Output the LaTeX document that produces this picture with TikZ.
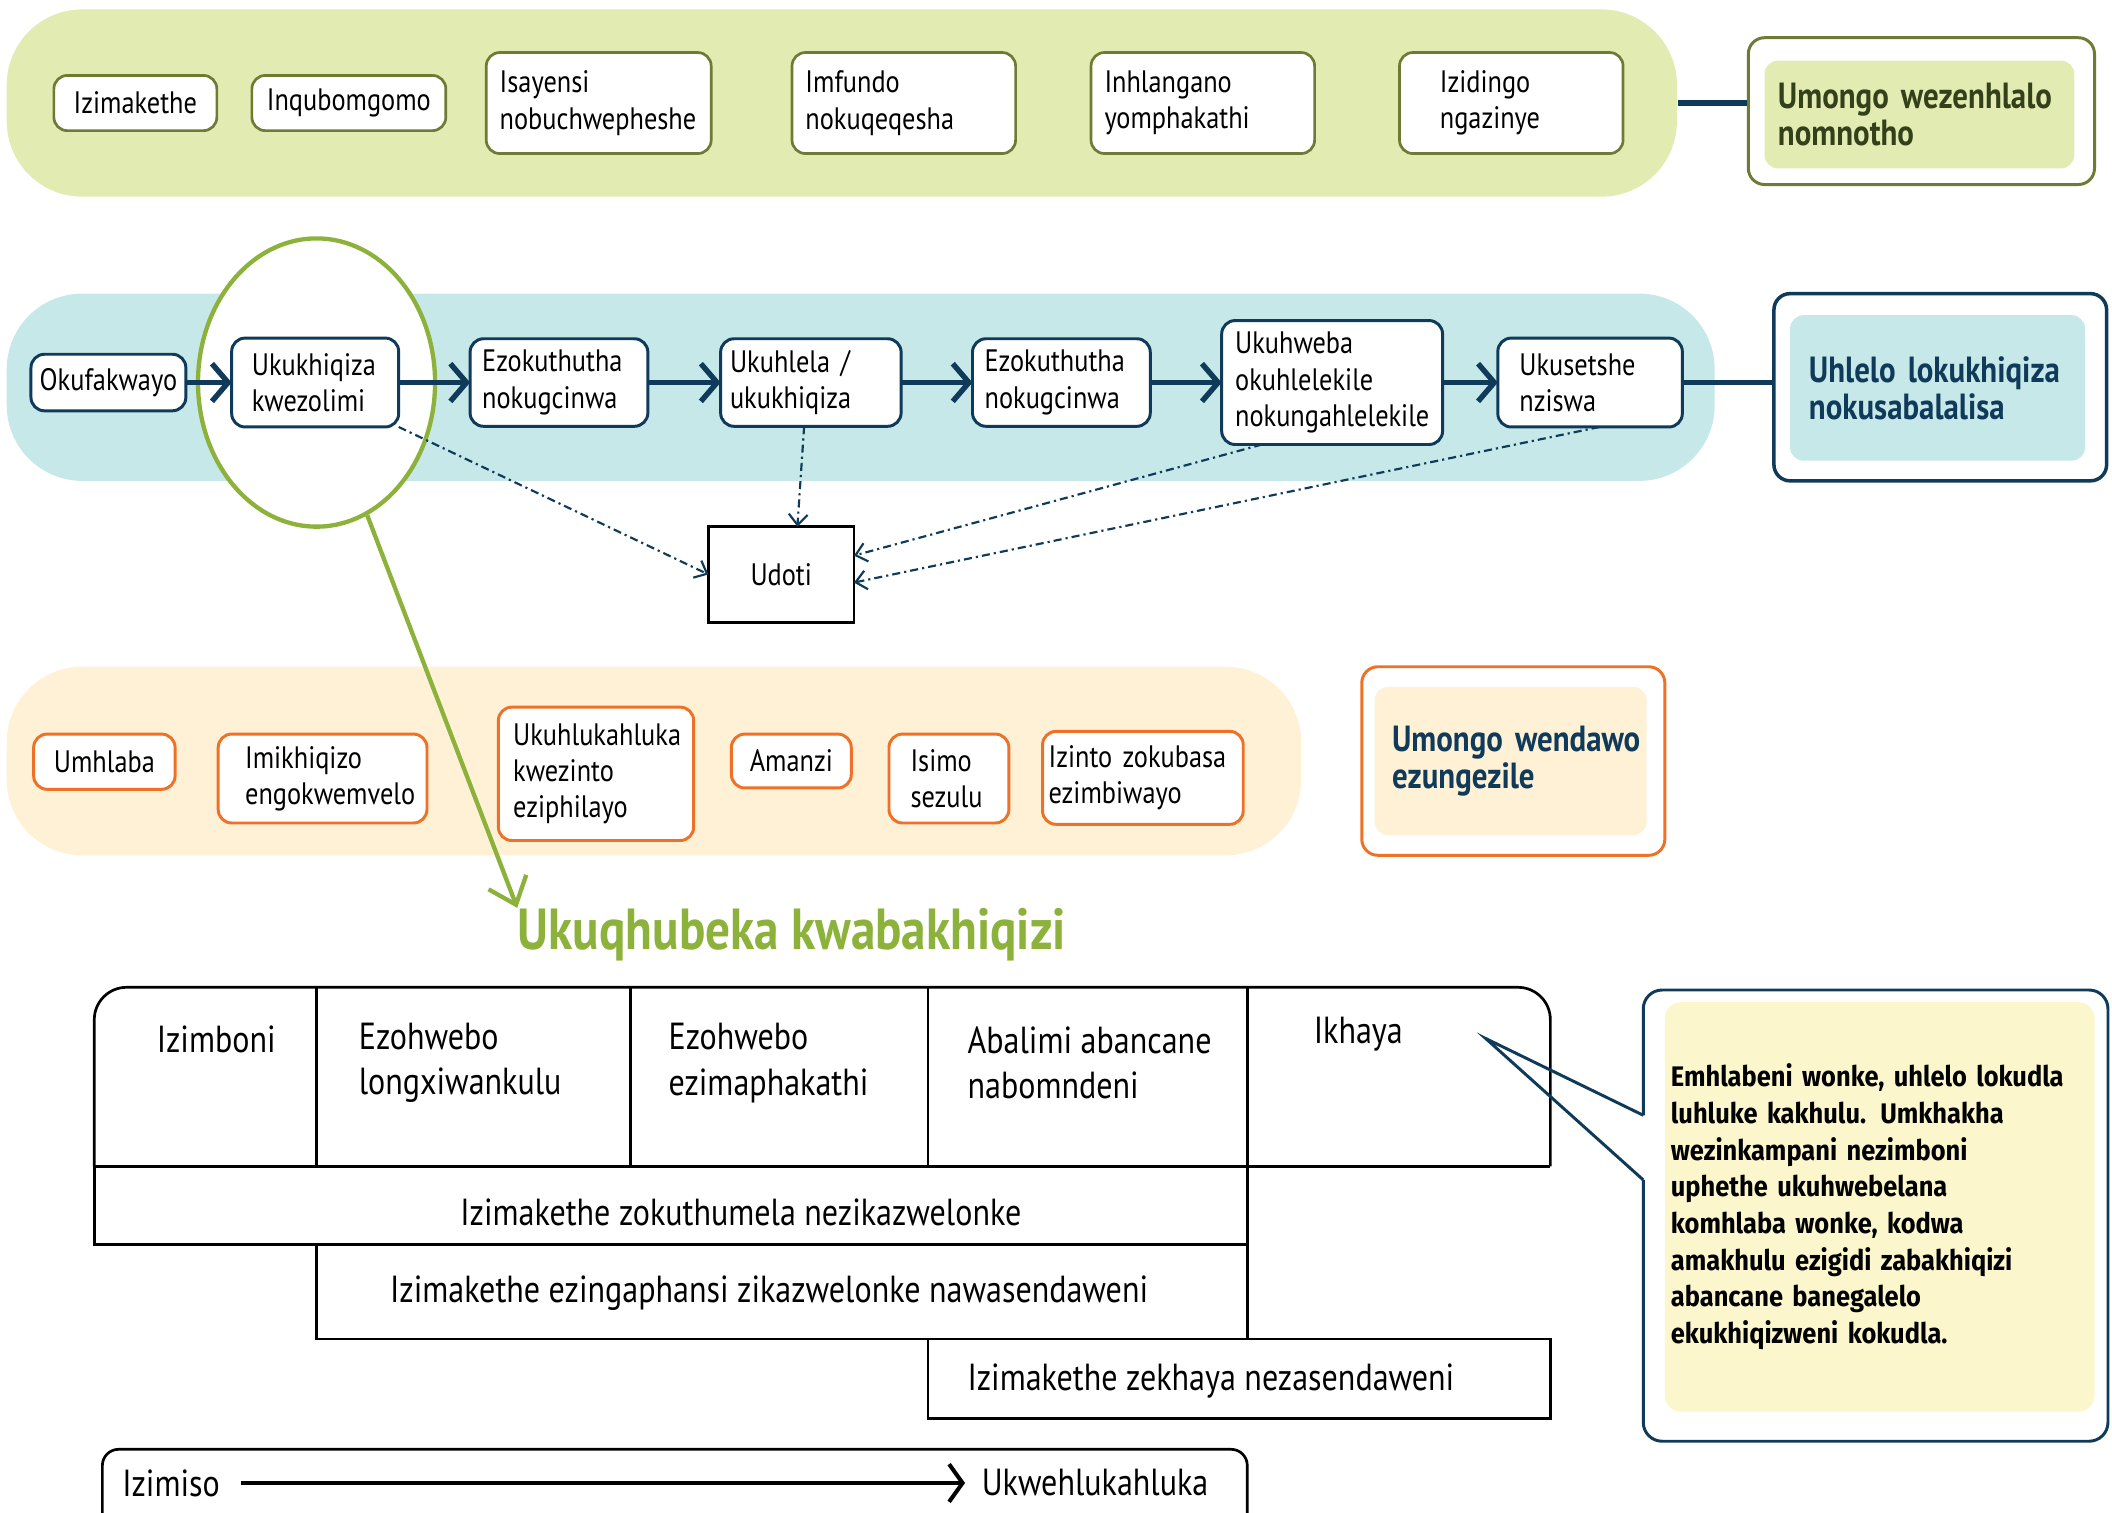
\documentclass[tikz,border=0pt]{standalone}
\usepackage{fontspec}
\setmainfont{PT Sans}[FakeStretch=0.85]
\newfontfamily\notefont{Fira Sans}[FakeStretch=0.9]
\usetikzlibrary{arrows.meta,positioning,shapes.geometric}

\definecolor{navy}{HTML}{0F3A5A}
\definecolor{socfill}{HTML}{E2ECB2}
\definecolor{socline}{HTML}{6F7A35}
\definecolor{soctext}{HTML}{33401A}
\definecolor{prodfill}{HTML}{C6E8E8}
\definecolor{envfill}{HTML}{FEF1D6}
\definecolor{envline}{HTML}{EE7127}
\definecolor{leaf}{HTML}{8DB23C}
\definecolor{notefill}{HTML}{FCF6CC}

\begin{document}
\begin{tikzpicture}[x=0.5pt, y=-0.5pt,
  band/.style={rounded corners=28pt, minimum height=69.5pt, inner sep=0pt},
  lbl/.style={font=\fontsize{11.5}{13.5}\selectfont, align=left, outer sep=0pt},
  socbox/.style={lbl, draw=socline, fill=white, line width=1pt, rounded corners=5pt, inner xsep=5pt},
  flowbox/.style={lbl, draw=navy, fill=white, line width=1.1pt, rounded corners=5pt, inner xsep=5pt},
  envbox/.style={lbl, draw=envline, fill=white, line width=1.1pt, rounded corners=5pt, inner xsep=5pt},
  frame/.style={rounded corners=6pt, line width=1.1pt, fill=white, inner sep=0pt},
  heading/.style={font=\bfseries\fontsize{13.5}{13.8}\selectfont, align=left, rounded corners=5pt, inner xsep=6pt},
  flow/.style={navy, line width=2pt, -{Straight Barb[length=6pt,width=14pt]}},
  waste/.style={navy, line width=0.8pt, dash pattern=on 3pt off 1.5pt on 0.8pt off 1.5pt, -{Straight Barb[length=4pt,width=7pt]}},
  cell/.style={font=\fontsize{14}{17}\selectfont, align=left, inner sep=0pt},
  tbl/.style={line width=1pt}
]
\useasboundingbox (0,0) rectangle (1568,1123);

% bands
\node[band, fill=socfill, minimum width=620pt] (socband) at (625,76.5) {};
\node[band, fill=prodfill, minimum width=634pt] (prodband) at (639,287.5) {};
\node[band, fill=envfill, minimum width=480.5pt, minimum height=70pt] (envband) at (485.5,565) {};

% social and economic row
\node[socbox, minimum width=60.5pt, minimum height=20.5pt] (s1) at (100.5,76.5) {Izimakethe};
\node[socbox, minimum width=72pt, minimum height=20.5pt] (s2) at (259,76.5) {Inqubomgomo};
\node[socbox, text width=73.5pt, minimum height=37.5pt] (s3) at (444.5,76.5) {Isayensi\\nobuchwepheshe};
\node[socbox, text width=73pt, minimum height=37.5pt] (s4) at (671,76.5) {Imfundo\\nokuqeqesha};
\node[socbox, text width=73pt, minimum height=37.5pt] (s5) at (893,76.5) {Inhlangano\\yomphakathi};
\node[socbox, inner xsep=15pt, text width=53pt, minimum height=37.5pt] (s6) at (1122,76.5) {Izidingo\\ngazinye};

\node[frame, draw=socline, minimum width=128.5pt, minimum height=54.5pt] (socouter) at (1426.5,82.5) {};
\node[heading, fill=socfill, text=soctext, inner xsep=5pt, text width=105pt, minimum height=40pt] (socinner) at (1425,85) {Umongo wezenhlalo\\nomnotho};
\draw[navy, line width=2pt] (socband.east) -- (socband.east -| socouter.west);

% production and distribution row
\node[ellipse, draw=leaf, fill=white, line width=1.6pt, minimum width=88pt, minimum height=107pt] (focus) at (235,284) {};

\node[flowbox, inner xsep=2pt, minimum width=57.5pt, minimum height=21pt] (u1) at (80.5,284) {Okufakwayo};
\node[flowbox, inner xsep=7.5pt, text width=47pt, minimum height=33pt, right=17pt of u1] (u2) {Ukukhiqiza\\kwezolimi};
\node[flowbox, inner xsep=4.5pt, text width=57pt, minimum height=32.5pt, right=26.5pt of u2] (u3) {Ezokuthutha\\nokugcinwa};
\node[flowbox, inner xsep=3.5pt, text width=60pt, minimum height=32.5pt, right=27pt of u3] (u4) {Ukuhlela /\\ukukhiqiza};
\node[flowbox, inner xsep=4.5pt, text width=57pt, minimum height=32.5pt, right=26.5pt of u4] (u5) {Ezokuthutha\\nokugcinwa};
\node[flowbox, inner xsep=5pt, text width=72pt, minimum height=46pt, right=26.5pt of u5] (u6) {Ukuhweba\\okuhlelekile\\nokungahlelekile};
\node[flowbox, inner xsep=8pt, text width=52.5pt, minimum height=33pt, right=20.5pt of u6] (u7) {Ukusetshe\\nziswa};

\draw[flow] (u1) -- (u2);
\draw[flow] (u2) -- (u3);
\draw[flow] (u3) -- (u4);
\draw[flow] (u4) -- (u5);
\draw[flow] (u5) -- (u6);
\draw[flow] (u6) -- (u7);

\node[frame, draw=navy, line width=1.3pt, minimum width=123.5pt, minimum height=69.5pt] (prodouter) at (1440.5,287.5) {};
\node[heading, fill=prodfill, text=navy, inner xsep=7pt, text width=95.5pt, minimum height=54pt] (prodinner) at (1438.5,288) {Uhlelo lokukhiqiza\\nokusabalalisa};
\draw[navy, line width=2pt] (u7.east) -- (u7.east -| prodouter.west);

% waste
\node[lbl, draw, line width=1pt, minimum width=54pt, minimum height=35.5pt] (udoti) at (580,426.5) {Udoti};
\draw[waste] (u2.south east) -- (udoti.west);
\draw[waste] ([xshift=-2.5pt]u4.south) -- ([xshift=6pt]udoti.north);
\draw[waste] ([xshift=15pt]u6.south west) -- ([yshift=7pt]udoti.east);
\draw[waste] ([xshift=3.5pt]u7.south) -- ([yshift=-3pt]udoti.east);

% environment row
\node[envbox, minimum width=52.5pt, minimum height=20.5pt] (e1) at (77.5,565.5) {Umhlaba};
\node[envbox, inner xsep=10pt, text width=57.5pt, minimum height=33pt] (e2) at (239.5,578) {Imikhiqizo\\engokwemvelo};
\node[envbox, inner xsep=5.5pt, text width=61.5pt, minimum height=49.5pt] (e3) at (442.5,574.5) {Ukuhlukahluka\\kwezinto\\eziphilayo};
\node[envbox, minimum width=44.5pt, minimum height=20pt] (e4) at (587.5,565) {Amanzi};
\node[envbox, inner xsep=8pt, text width=28.5pt, minimum height=33pt] (e5) at (704.5,578) {Isimo\\sezulu};
\node[envbox, inner xsep=2.25pt, text width=70pt, minimum height=34.5pt] (e6) at (848.5,577.5) {Izinto zokubasa\\ezimbiwayo};

\node[frame, draw=envline, minimum width=112.5pt, minimum height=70pt] (envouter) at (1123.5,565) {};
\node[heading, fill=envfill, text=navy, inner xsep=6.5pt, text width=88pt, minimum height=55pt] (envinner) at (1121.5,565) {\mbox{Umongo wendawo}\\ezungezile};

% producers
\node[font=\bfseries\fontsize{21.5}{24}\selectfont, text=leaf, anchor=west, inner sep=0pt] (title) at (384,694) {Ukuqhubeka kwabakhiqizi};
\draw[leaf, line width=1.6pt, -{Straight Barb[length=9pt,width=15pt]}] (focus) -- (title.north west);

\draw[tbl, rounded corners=12pt] (70,866) -- (70,733) -- (1151,733) -- (1151,866);
\draw[tbl, line width=1.4pt] (70,866) -- (1151,866);
\foreach \x in {235,468,689,926}
  \draw[tbl] (\x,733) -- (\x,866);
\draw[tbl] (70,866) rectangle (926,924);
\draw[tbl] (235,924) rectangle (926,994);
\draw[tbl] (689,994) rectangle (1151,1053);

\node[cell, anchor=west] (c1) at (116,772) {Izimboni};
\node[cell, anchor=west] (c2) at (266,789) {Ezohwebo\\longxiwankulu};
\node[cell, anchor=west] (c3) at (496,789) {Ezohwebo\\ezimaphakathi};
\node[cell, anchor=west] (c4) at (718,789) {Abalimi abancane\\nabomndeni};
\node[cell, anchor=west] (c5) at (975,768) {Ikhaya};
\node[cell] (m1) at (550,900) {Izimakethe zokuthumela nezikazwelonke};
\node[cell] (m2) at (571,960) {Izimakethe ezingaphansi zikazwelonke nawasendaweni};
\node[cell] (m3) at (899,1025) {Izimakethe zekhaya nezasendaweni};

% legend
\node[draw, line width=1pt, rounded corners=6pt, minimum width=425pt, minimum height=37pt] (legend) at (501,1113) {};
\node[cell, inner xsep=7.5pt] (policy) at (127,1101) {Izimiso};
\node[cell, inner xsep=6pt] (diverse) at (813,1101) {Ukwehlukahluka};
\draw[line width=1.5pt, -{Straight Barb[length=5pt,width=14pt]}] (policy) -- (diverse);

% callout
\coordinate (tip) at (1103,771);
\draw[navy, line width=1.1pt, rounded corners=7pt] (1220,828) -- (1220,735) -- (1565,735) -- (1565,1070) -- (1220,1070) -- (1220,876);
\draw[navy, line width=1.1pt] (1220,828) -- (tip) -- (1220,876);
\node[fill=notefill, rounded corners=6pt, minimum width=159.5pt, minimum height=152pt, text width=155pt, inner xsep=2pt, align=left, font=\notefont\bfseries\fontsize{10.5}{13.6}\selectfont] (note) at (1395.5,896) {Emhlabeni wonke, uhlelo lokudla\\luhluke kakhulu. Umkhakha\\wezinkampani nezimboni\\uphethe ukuhwebelana\\komhlaba wonke, kodwa\\amakhulu ezigidi zabakhiqizi\\abancane banegalelo\\ekukhiqizweni kokudla.};
\end{tikzpicture}
\end{document}
